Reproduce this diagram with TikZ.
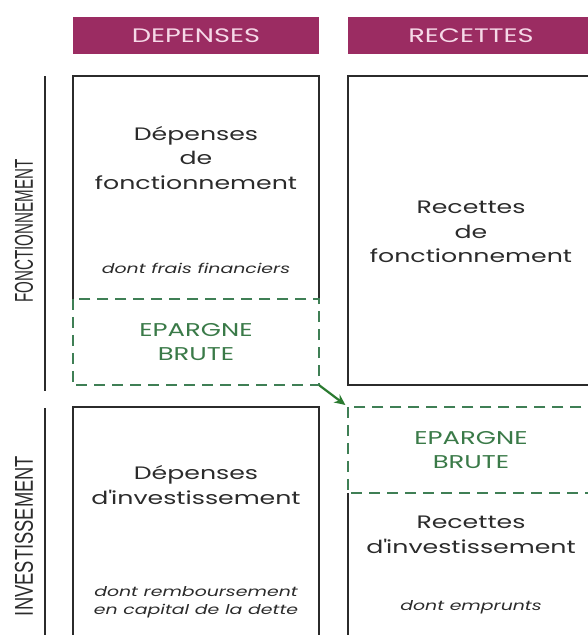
\documentclass[tikz,border=0pt]{standalone}
\usepackage{fontspec}
\setmainfont{Poppins}[FakeStretch=1.4]
\newfontfamily\narrowfont{Liberation Sans}
\usetikzlibrary{arrows.meta}
\definecolor{plum}{HTML}{9B2C62}
\definecolor{headtext}{HTML}{F6D9E8}
\definecolor{ink}{HTML}{2B2B2B}
\definecolor{saveg}{HTML}{3F7F55}
\definecolor{savetext}{HTML}{3A7A48}
\definecolor{arrowg}{HTML}{2A7A30}

\begin{document}
\begin{tikzpicture}[x=1pt,y=-1pt,
  every node/.style={inner sep=0pt},
  head/.style={fill=plum,text=headtext,minimum width=246pt,minimum height=37pt,
    font=\fontsize{19.5}{22}\selectfont},
  cell/.style={minimum width=246pt},
  word/.style={align=center,text=ink,font=\fontsize{18}{24.5}\selectfont},
  note/.style={align=center,text=ink,font=\itshape\fontsize{13.5}{18}\selectfont},
  save/.style={align=center,text=savetext,font=\fontsize{18.5}{24}\selectfont},
  wall/.style={draw=ink,line width=2.2pt},
  rail/.style={draw=ink,line width=2pt},
  saveline/.style={draw=saveg,line width=2pt,dash pattern=on 11pt off 7pt},
  side/.style={text=ink}]

  \useasboundingbox (0,0) rectangle (588,635);
  \clip (0,0) rectangle (588,635);

  \newcommand\LC{196}  % centre of the left column
  \newcommand\RC{471}  % centre of the right column
  \newcommand\q{\textquotesingle}

  %% column heads
  \node[head] (hdep) at (\LC,35.5) {DEPENSES};
  \node[head] (hrec) at (\RC,35.5) {RECETTES};

  %% the six cells (empty, used for their corners)
  \node[cell,minimum height=223pt] (dfonc) at (\LC,187.5) {};
  \node[cell,minimum height=86pt]  (epdep) at (\LC,342) {};
  \node[cell,minimum height=309pt] (rfonc) at (\RC,230.5) {};
  \node[cell,minimum height=243pt] (dinv)  at (\LC,528.5) {};
  \node[cell,minimum height=86pt]  (eprec) at (\RC,450) {};
  \node[cell,minimum height=157pt] (rinv)  at (\RC,571.5) {};

  \draw[wall] (dfonc.south west) -- (dfonc.north west) -- (dfonc.north east) -- (dfonc.south east);
  \draw[wall] (rfonc.north west) rectangle (rfonc.south east);
  \draw[wall] (dinv.north west) rectangle (dinv.south east);
  \draw[wall] (rinv.north west) -- (rinv.south west);
  \draw[saveline] (epdep.north west) rectangle (epdep.south east);
  \draw[saveline] (eprec.north west) rectangle (eprec.south east);

  %% epargne moves across
  \draw[arrowg,line width=2.2pt,-{Stealth[length=11pt,width=10pt]},shorten >=3pt]
    (epdep.south east) -- (eprec.north west);

  %% texts
  \node[word] (tdfonc) at (\LC,158) {Dépenses\\de\\fonctionnement};
  \node[note] (ndfonc) at (\LC,268) {dont frais financiers};
  \node[save] (tepdep) at (\LC,342) {EPARGNE\\BRUTE};
  \node[word] (trfonc) at (\RC,232) {Recettes\\de\\fonctionnement};
  \node[word] (tdinv)  at (\LC,485) {Dépenses\\d\q investissement};
  \node[note] (ndinv)  at (\LC,602) {dont remboursement\\en capital de la dette};
  \node[save] (teprec) at (\RC,450) {EPARGNE\\BRUTE};
  \node[word] (trinv)  at (\RC,535) {Recettes\\d\q investissement};
  \node[note] (nrinv)  at (\RC,607) {dont emprunts};

  %% section rails on the left
  \draw[rail] (45,76) -- (45,391);
  \draw[rail] (45,408) -- (45,640);
  \node[side,rotate=90] (lfonc) at (24,231)
    {\resizebox{143pt}{18pt}{\narrowfont FONCTIONNEMENT}};
  \node[side,rotate=90] (linv) at (24,536)
    {\resizebox{160pt}{18pt}{\narrowfont INVESTISSEMENT}};

\end{tikzpicture}
\end{document}
